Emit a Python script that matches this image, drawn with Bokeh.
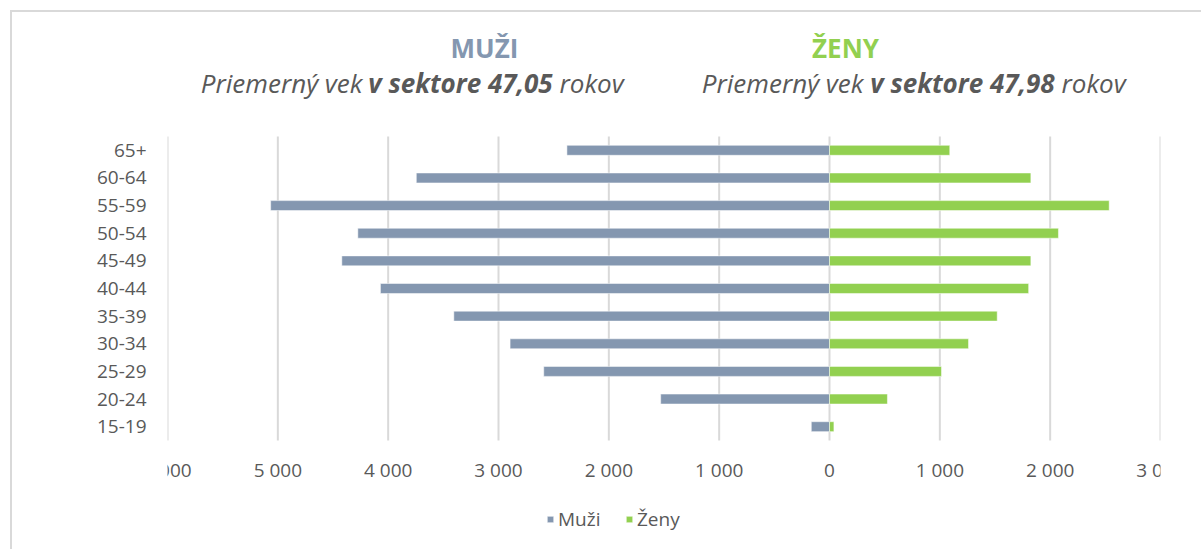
from bokeh.plotting import figure
from bokeh.models import (Range1d, FixedTicker, CustomJSTickFormatter,
                          Legend, LegendItem, ColumnDataSource)
from bokeh.core.properties import value
from bokeh.embed import file_html
from bokeh.resources import INLINE

# ---- data (bottom to top) ----
ages = ["15-19", "20-24", "25-29", "30-34", "35-39", "40-44",
        "45-49", "50-54", "55-59", "60-64", "65+"]
muzi = [165, 1530, 2590, 2895, 3405, 4070, 4420, 4275, 5065, 3745, 2380]
zeny = [40, 525, 1015, 1260, 1520, 1805, 1825, 2075, 2535, 1825, 1090]
x_ticks = [-6000, -5000, -4000, -3000, -2000, -1000, 0, 1000, 2000, 3000]
series_names = ["Muži", "Ženy"]
avg_age = ["47,05", "47,98"]

C_M = "#8497B0"
C_Z = "#92D050"
TXT = "#595959"
GRID = "#d9d9d9"
FONT = "Open Sans"

ypos = list(range(len(ages)))
src = ColumnDataSource(dict(y=ypos, muzi_neg=[-v for v in muzi], zeny=zeny))

# page geometry helpers (plot area: x 167..1160 px, y 136..440 px; frame y 20..547)
PX_PER_UNIT_X = 993 / 9000
PX_PER_UNIT_Y = 304 / 11
def px_x(px):
    return -6000 + (px - 167) / PX_PER_UNIT_X
def px_y(py):
    return -0.5 + (440 - py) / PX_PER_UNIT_Y

y_top = px_y(20)
y_bottom = px_y(547)

p = figure(frame_width=993, frame_height=527,
           output_backend="svg", toolbar_location=None,
           x_range=Range1d(-6000, 3000), y_range=Range1d(y_bottom, y_top),
           min_border_left=155, min_border_right=41,
           min_border_top=8, min_border_bottom=2)
p.styles = {"margin-left": "10px", "margin-top": "10px",
            "border-top": "2px solid #d9d9d9", "border-left": "2px solid #d9d9d9"}
p.outline_line_color = None
p.background_fill_color = "white"
p.border_fill_color = "white"
p.xgrid.grid_line_color = None
p.ygrid.grid_line_color = None

# vertical gridlines spanning the plot area only
p.segment(x0=x_ticks, y0=[-0.5] * len(x_ticks), x1=x_ticks, y1=[len(ages) - 0.5] * len(x_ticks),
          line_color=GRID, line_width=2)

r_m = p.hbar(y="y", left="muzi_neg", right=0, height=0.36, source=src,
             fill_color=C_M, line_color="white", line_width=0.5)
r_z = p.hbar(y="y", left=0, right="zeny", height=0.36, source=src,
             fill_color=C_Z, line_color="white", line_width=0.5)

# axes
p.xaxis.fixed_location = -0.5
p.xaxis.ticker = FixedTicker(ticks=x_ticks)
p.xaxis.formatter = CustomJSTickFormatter(code="""
const v = Math.abs(tick);
return v.toLocaleString('en-US').replace(/,/g, ' ');
""")
p.yaxis.ticker = FixedTicker(ticks=ypos)
p.yaxis.major_label_overrides = {i: a for i, a in zip(ypos, ages)}
for ax in (p.xaxis[0], p.yaxis[0]):
    ax.axis_line_color = None
    ax.major_tick_line_color = None
    ax.minor_tick_line_color = None
    ax.major_tick_out = 0
    ax.major_tick_in = 0
    ax.major_label_text_font = FONT
    ax.major_label_text_font_size = "19px"
    ax.major_label_text_color = TXT
p.xaxis.major_label_standoff = 16
p.yaxis.major_label_standoff = 21

# titles
ty = px_y(47)
sy = px_y(82)
p.text(x=[px_x(484)], y=[ty], text=["MUŽI"], text_align="center", text_baseline="middle",
       text_font=value(FONT), text_font_size="26px", text_font_style="bold", text_color=C_M)
p.text(x=[px_x(845)], y=[ty], text=["ŽENY"], text_align="center", text_baseline="middle",
       text_font=value(FONT), text_font_size="26px", text_font_style="bold", text_color=C_Z)

ends_a = [362, 863]
mids_b = [460, 962]
starts_c = [559, 1061]
p.text(x=[px_x(v) for v in ends_a], y=[sy, sy], text=["Priemerný vek"] * 2,
       text_align="right", text_baseline="middle", text_font=value(FONT),
       text_font_size="26px", text_font_style="italic", text_color=TXT)
p.text(x=[px_x(v) for v in mids_b], y=[sy, sy], text=["v sektore " + a for a in avg_age],
       text_align="center", text_baseline="middle", text_font=value(FONT),
       text_font_size="26px", text_font_style="bold italic", text_color=TXT)
p.text(x=[px_x(v) for v in starts_c], y=[sy, sy], text=["rokov"] * 2,
       text_align="left", text_baseline="middle", text_font=value(FONT),
       text_font_size="26px", text_font_style="italic", text_color=TXT)

# legend inside the (extended) frame, below the axis labels
legend = Legend(items=[LegendItem(label=series_names[0], renderers=[r_m]),
                       LegendItem(label=series_names[1], renderers=[r_z])],
                location=(379, 15), orientation="horizontal",
                glyph_width=8, glyph_height=8, label_standoff=4,
                label_width=67, spacing=0,
                padding=0, margin=0, label_height=24,
                label_text_font=FONT, label_text_font_size="19px", label_text_color=TXT,
                background_fill_alpha=0, border_line_color=None)
p.add_layout(legend, "center")

open("out.html", "w").write(file_html(p, INLINE))
